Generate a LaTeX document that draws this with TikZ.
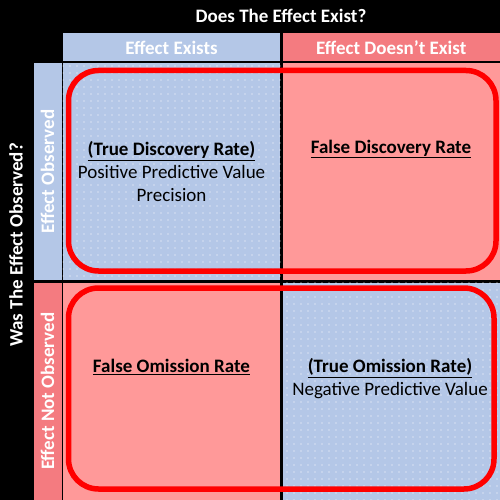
\documentclass[tikz,border=0pt]{standalone}
\usepackage{fontspec}
\setmainfont{Carlito}
\usetikzlibrary{patterns.meta}

\definecolor{cellblue}{HTML}{B4C7E7}
\definecolor{cellred}{HTML}{FF9999}
\definecolor{headred}{HTML}{F47B80}
\definecolor{ringred}{HTML}{FF0000}

\tikzset{
  box/.style={rectangle, inner sep=0pt, outer sep=0pt, align=center,
    font=\fontsize{19}{23}\selectfont},
  cellbox/.style={box, minimum width=217.5pt, minimum height=217.5pt},
  headbox/.style={box, minimum width=217.5pt, minimum height=28pt,
    text=white, font=\fontsize{19}{23}\selectfont\bfseries},
  sidebox/.style={box, minimum width=217.5pt, minimum height=28pt, rotate=90,
    text=white, font=\fontsize{19}{23}\selectfont\bfseries},
  titletext/.style={box, text=white, font=\fontsize{19}{23}\selectfont\bfseries},
  celltext/.style={box},
  dotted fill/.style={postaction={pattern={Dots[distance=7pt, radius=0.7pt]},
    pattern color=white}},
  ring/.style={draw=ringred, line width=5.5pt, rounded corners=30pt},
}

\begin{document}
\begin{tikzpicture}[x=1pt, y=-1pt]
  % canvas
  \fill[black] (0,0) rectangle (500,500);
  \useasboundingbox (0,0) rectangle (500,500);

  % axis titles
  \node[titletext] (coltitle) at (281,16) {Does The Effect Exist?};
  \node[titletext, rotate=90] (rowtitle) at (16,245) {Was The Effect Observed?};

  % column headers
  \node[headbox, fill=cellblue] (colA) at (171.5,47.5) {Effect Exists};
  \node[headbox, fill=headred] (colB) at (391.25,47.5) {Effect Doesn’t Exist};

  % row headers
  \node[sidebox, fill=cellblue] (rowA) at (47.5,171.5) {Effect Observed};
  \node[sidebox, fill=headred] (rowB) at (47.5,391.25) {Effect Not Observed};

  % the four cells
  \node[cellbox, fill=cellblue, dotted fill] (tl) at (171.5,171.5) {};
  \node[cellbox, fill=cellred] (tr) at (391.25,171.5) {};
  \node[cellbox, fill=cellred] (bl) at (171.5,391.25) {};
  \node[cellbox, fill=cellblue, dotted fill] (br) at (391.25,391.25) {};

  % cell labels
  \node[celltext] (tltext) at (171.5,172)
    {\textbf{\underline{(True Discovery Rate)}}\\Positive Predictive Value\\Precision};
  \node[celltext] (trtext) at (391,149) {\textbf{\underline{False Discovery Rate}}};
  \node[celltext] (bltext) at (171.5,367) {\textbf{\underline{False Omission Rate}}};
  \node[celltext] (brtext) at (390,379)
    {\textbf{\underline{(True Omission Rate)}}\\Negative Predictive Value};

  % row outlines
  \draw[ring] (68.5,70.5) rectangle (496,271);
  \draw[ring] (68.5,288) rectangle (494,489);
\end{tikzpicture}
\end{document}
